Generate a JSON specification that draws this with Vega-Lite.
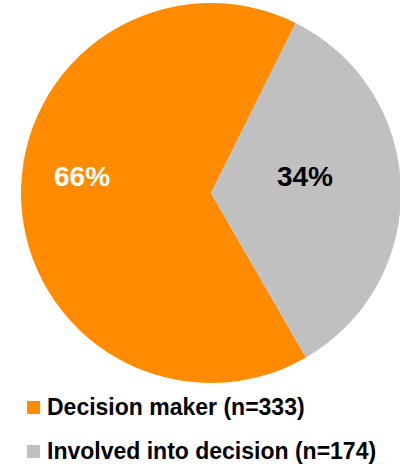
{
  "$schema": "https://vega.github.io/schema/vega-lite/v6.json",
  "width": 378,
  "height": 386,
  "autosize": "none",
  "padding": {"left": 22, "top": 0, "right": 0, "bottom": 78},
  "background": "white",
  "config": {"view": {"stroke": null}, "font": "Liberation Sans"},
  "data": {
    "values": [
      {"category": "Decision maker (n=333)", "n": 333, "label": "66%"},
      {"category": "Involved into decision (n=174)", "n": 174, "label": "34%"}
    ]
  },
  "encoding": {
    "theta": {"field": "n", "type": "quantitative", "stack": true, "scale": {"range": [2.618, 8.9012]}},
    "order": {"field": "n", "type": "quantitative", "sort": "descending"}
  },
  "layer": [
    {
      "mark": {"type": "arc", "outerRadius": 190, "stroke": null},
      "encoding": {
        "color": {
          "field": "category",
          "type": "nominal",
          "scale": {"domain": ["Decision maker (n=333)", "Involved into decision (n=174)"], "range": ["#FF8C00", "#C0C0C0"]},
          "legend": {
            "title": null,
            "orient": "none",
            "legendX": 0,
            "legendY": 396,
            "padding": 0,
            "symbolType": "square",
            "symbolSize": 169,
            "symbolStrokeWidth": 0,
            "labelFontSize": 23,
            "labelFontWeight": "bold",
            "labelColor": "black",
            "labelFont": "Liberation Sans",
            "labelOffset": 2,
            "labelLimit": 400,
            "rowPadding": 20
          }
        }
      }
    },
    {
      "mark": {"type": "text", "radius": 129, "dy": -19, "fontSize": 28, "fontWeight": "bold", "font": "Liberation Sans", "color": "white"},
      "encoding": {
        "detail": {"field": "category", "type": "nominal"},
        "text": {"condition": {"test": "datum.n == 333", "field": "label"}, "value": ""}
      }
    },
    {
      "mark": {"type": "text", "radius": 94, "dy": -12, "fontSize": 28, "fontWeight": "bold", "font": "Liberation Sans", "color": "black"},
      "encoding": {
        "detail": {"field": "category", "type": "nominal"},
        "text": {"condition": {"test": "datum.n == 174", "field": "label"}, "value": ""}
      }
    }
  ]
}
